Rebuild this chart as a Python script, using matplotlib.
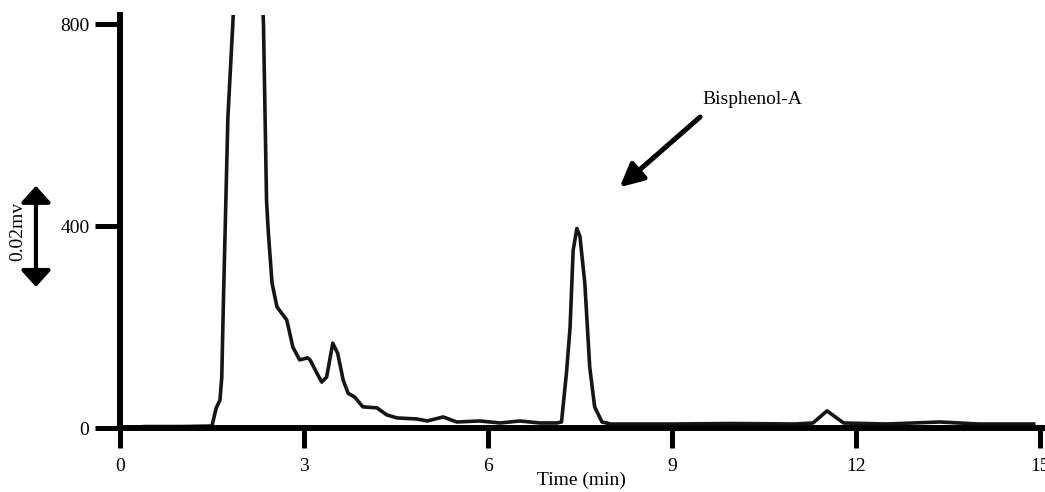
import matplotlib.pyplot as plt
from matplotlib.patches import FancyArrowPatch
import numpy as np

plt.rcParams['font.family'] = ['Liberation Serif', 'DejaVu Serif']

# chromatogram trace (time in min, signal)
time_min = [0.4, 1.0, 1.5, 1.57, 1.63, 1.66, 1.69, 1.76, 1.84, 1.95,
            2.25, 2.34, 2.39, 2.42, 2.48, 2.56, 2.72, 2.82, 2.93, 3.06,
            3.10, 3.21, 3.29, 3.37, 3.47, 3.55, 3.64, 3.72, 3.83, 3.96,
            4.19, 4.35, 4.52, 4.84, 5.01, 5.27, 5.49, 5.87, 6.2, 6.52,
            6.85, 7.12, 7.2, 7.28, 7.34, 7.39, 7.45, 7.5, 7.58, 7.66,
            7.74, 7.86, 8.0, 9.0, 10.0, 11.0, 11.3, 11.53, 11.8, 12.5,
            13.37, 14.0, 14.9]
signal = [3, 3, 4, 40, 55, 100, 267, 616, 800, 1100,
          1100, 800, 451, 386, 287, 240, 214, 160, 135, 139,
          135, 109, 91, 101, 168, 148, 95, 69, 61, 42,
          40, 26, 20, 18, 14, 22, 12, 14, 10, 14,
          10, 10, 12, 108, 200, 352, 395, 380, 287, 121,
          42, 12, 8, 8, 9, 8, 10, 34, 10, 8,
          12, 8, 8]

x_ticks = [0, 3, 6, 9, 12, 15]
y_ticks = [0, 400, 800]

fig = plt.figure(figsize=(10.45, 4.92), dpi=100)
ax = fig.add_axes([0.1148, 0.130, 0.8832, 0.8395])

ax.plot(time_min, signal, color='#151515', lw=2.6, solid_joinstyle='round')

ax.set_xlim(0, 15.05)
ax.set_ylim(0, 818)
ax.set_xticks(x_ticks)
ax.set_yticks(y_ticks)
ax.spines['top'].set_visible(False)
ax.spines['right'].set_visible(False)
for s in ['left', 'bottom']:
    ax.spines[s].set_linewidth(4.3)
    ax.spines[s].set_zorder(5)
ax.tick_params(axis='x', direction='out', length=14.5, width=3.6, pad=7, labelsize=14)
ax.tick_params(axis='y', direction='out', length=18, width=3.6, pad=4, labelsize=14)
ax.set_xlabel('Time (min)', fontsize=14, labelpad=-2)

ax.annotate('', xy=(8.15, 477), xytext=(9.46, 616),
            arrowprops=dict(arrowstyle='-|>,head_length=1.4,head_width=0.7',
                            color='black', lw=3.6, mutation_scale=10,
                            shrinkA=0, shrinkB=0))
ax.text(9.5, 650, 'Bisphenol-A', fontsize=14, ha='left', va='center')

# scale bar on the left
arr = FancyArrowPatch((0.0344, 0.628), (0.0344, 0.411), transform=fig.transFigure,
                      arrowstyle='<|-|>,head_length=10,head_width=9',
                      mutation_scale=1, color='black', lw=3)
fig.patches.append(arr)
fig.text(0.017, 0.53, '0.02mv', rotation=90, fontsize=14, ha='center', va='center')

fig.savefig('out.png', dpi=100)
